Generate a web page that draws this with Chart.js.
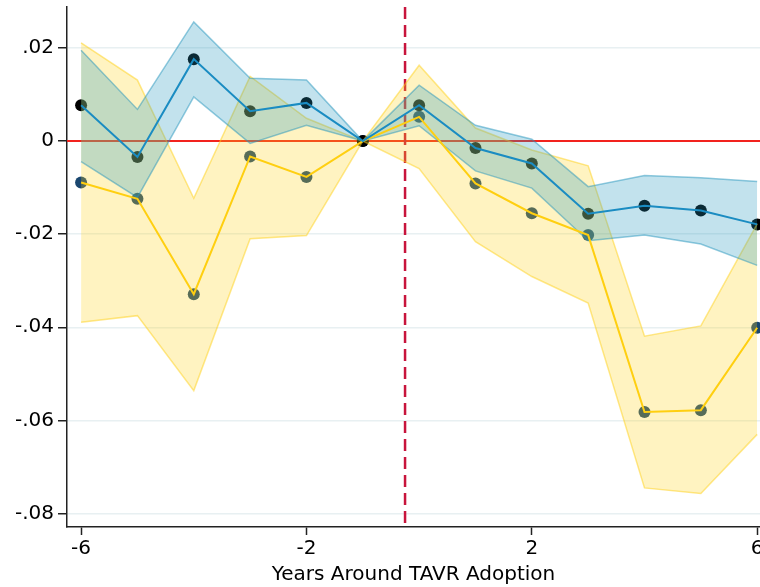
<!DOCTYPE html>
<html>
<head>
<meta charset="utf-8">
<script src="https://cdn.jsdelivr.net/npm/chart.js@4"></script>
<style>
  body { margin: 0; background: #fff; }
  #wrap { width: 760px; height: 587px; }
</style>
</head>
<body>
<div id="wrap"><canvas id="c" width="760" height="587"></canvas></div>
<script>
// event-time estimates
const years = [-6, -5, -4, -3, -2, -1, 0, 1, 2, 3, 4, 5, 6];
const blueEst = [0.0077, -0.0034, 0.0176, 0.0064, 0.0082, 0, 0.0077, -0.0015, -0.0048, -0.0156, -0.0139, -0.0149, -0.0179];
const blueHi  = [0.0195, 0.0068, 0.0256, 0.0135, 0.0131, 0, 0.0120, 0.0034, 0.0004, -0.0098, -0.0074, -0.0079, -0.0087];
const blueLo  = [-0.0044, -0.0121, 0.0095, -0.0005, 0.0034, 0, 0.0033, -0.0064, -0.0101, -0.0214, -0.0202, -0.0221, -0.0267];
const goldEst = [-0.0089, -0.0124, -0.0329, -0.0033, -0.0077, 0, 0.0052, -0.0091, -0.0155, -0.0202, -0.0582, -0.0578, -0.0401];
const goldHi  = [0.0211, 0.0131, -0.0123, 0.0139, 0.0049, 0, 0.0163, 0.0028, -0.0019, -0.0053, -0.0419, -0.0397, -0.0178];
const goldLo  = [-0.0389, -0.0375, -0.0536, -0.0210, -0.0203, 0, -0.0059, -0.0216, -0.0291, -0.0348, -0.0745, -0.0757, -0.0630];

const xTicks = [-6, -2, 2, 6];
const yTicks = [0.02, 0, -0.02, -0.04, -0.06, -0.08];
const treatYear = -0.25;

function pts(arr) { return years.map((yr, i) => ({ x: yr, y: arr[i] })); }

function fmtY(v) {
    if (Math.abs(v) < 1e-9) return '0';
    return (v < 0 ? '-' : '') + Math.abs(v).toFixed(2).replace(/^0/, '');
}

// zero line + adoption marker, drawn under the bands
const refLines = {
    id: 'refLines',
    beforeDatasetsDraw(chart) {
        const { ctx, chartArea, scales } = chart;
        const y0 = scales.y.getPixelForValue(0);
        const xt = scales.x.getPixelForValue(treatYear);
        ctx.save();
        ctx.strokeStyle = '#f2231e';
        ctx.lineWidth = 2;
        ctx.beginPath();
        ctx.moveTo(chartArea.left, y0);
        ctx.lineTo(chartArea.right, y0);
        ctx.stroke();
        ctx.strokeStyle = '#c8143c';
        ctx.lineWidth = 2.5;
        ctx.setLineDash([12, 6]);
        ctx.beginPath();
        ctx.moveTo(xt, chartArea.top);
        ctx.lineTo(xt, chartArea.bottom);
        ctx.stroke();
        ctx.restore();
    }
};

function noPad(s) {
    s.paddingLeft = 0; s.paddingRight = 0; s.paddingTop = 0; s.paddingBottom = 0;
}

const bandBase = { pointRadius: 0, borderWidth: 1.5, tension: 0 };

new Chart(document.getElementById('c'), {
    type: 'line',
    data: {
        datasets: [
            { data: pts(goldEst), showLine: false, pointRadius: 6, pointBorderWidth: 0, pointBackgroundColor: '#1a476f', order: 11 },
            { data: pts(blueEst), showLine: false, pointRadius: 6, pointBorderWidth: 0, pointBackgroundColor: '#000000', order: 10 },
            Object.assign({ data: pts(goldHi), fill: '+1', backgroundColor: 'rgba(255,210,26,0.27)', borderColor: 'rgba(255,210,26,0.5)', order: 8 }, bandBase),
            Object.assign({ data: pts(goldLo), fill: false, borderColor: 'rgba(255,210,26,0.5)', order: 7 }, bandBase),
            Object.assign({ data: pts(blueHi), fill: '+1', backgroundColor: 'rgba(37,150,190,0.28)', borderColor: 'rgba(37,150,190,0.5)', order: 6 }, bandBase),
            Object.assign({ data: pts(blueLo), fill: false, borderColor: 'rgba(37,150,190,0.5)', order: 5 }, bandBase),
            { data: pts(goldEst), borderColor: '#ffcf10', borderWidth: 2, pointRadius: 0, fill: false, order: 4 },
            { data: pts(blueEst), borderColor: '#1a8cc2', borderWidth: 2, pointRadius: 0, fill: false, order: 3 }
        ]
    },
    options: {
        responsive: false,
        animation: false,
        devicePixelRatio: 1,
        layout: { autoPadding: false, padding: { top: 7, right: 0, left: 0, bottom: 0 } },
        plugins: { legend: { display: false }, tooltip: { enabled: false } },
        scales: {
            x: {
                type: 'linear',
                min: -6.25,
                max: 6.05,
                afterBuildTicks: s => { s.ticks = xTicks.map(v => ({ value: v })); },
                afterFit: s => { s.height = 60; noPad(s); },
                ticks: { color: '#000', font: { family: 'DejaVu Sans', size: 20 }, padding: 2, maxRotation: 0, autoSkip: false },
                grid: { drawOnChartArea: false, tickLength: 8, tickColor: '#222', tickWidth: 1.5 },
                border: { color: '#222', width: 1.5 },
                title: { display: true, text: 'Years Around TAVR Adoption', color: '#000', font: { family: 'DejaVu Sans', size: 20 }, padding: { top: 0, bottom: 0 } }
            },
            y: {
                type: 'linear',
                min: -0.0829,
                max: 0.0288,
                afterBuildTicks: s => { s.ticks = yTicks.map(v => ({ value: v })); },
                afterFit: s => { s.width = 67; noPad(s); },
                ticks: { color: '#000', font: { family: 'DejaVu Sans', size: 20 }, padding: 4, callback: v => fmtY(v) },
                grid: { color: '#e8f0f2', lineWidth: 1.5, tickLength: 9, tickColor: '#222', tickWidth: 1.5 },
                border: { color: '#222', width: 1.5 }
            }
        }
    },
    plugins: [refLines]
});
</script>
</body>
</html>
